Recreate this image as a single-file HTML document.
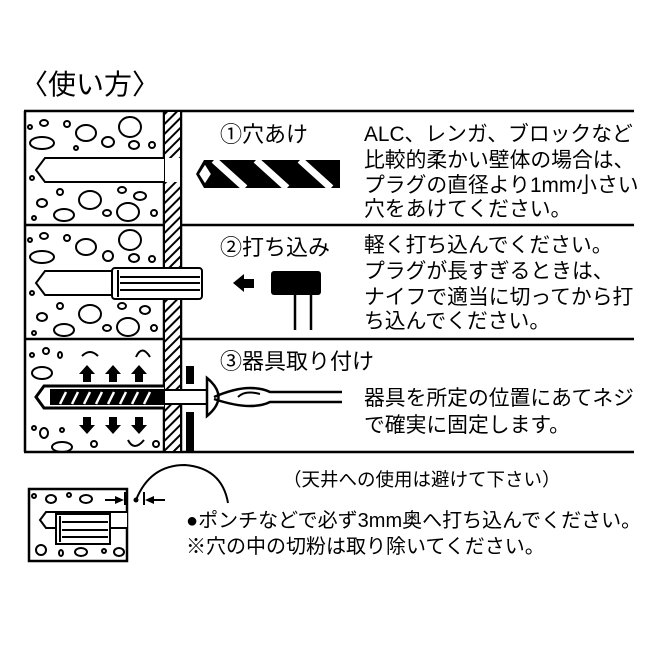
<!DOCTYPE html>
<html><head><meta charset="utf-8"><style>
html,body{margin:0;padding:0;background:#fff}
svg{display:block}
text{font-family:"Liberation Sans","Noto Sans CJK JP",sans-serif;fill:#000}
</style></head><body>
<svg width="665" height="665" viewBox="0 0 665 665" xmlns="http://www.w3.org/2000/svg">
<defs>
<pattern id="h" width="7" height="7" patternUnits="userSpaceOnUse" patternTransform="rotate(45)">
<rect width="7" height="7" fill="#fff"/><rect width="2" height="7" fill="#000"/></pattern>
</defs>
<text x="20" y="94" font-size="28">〈使い方〉</text>
<g stroke="#000" stroke-width="2.5" fill="none">
<line x1="24" y1="111" x2="634" y2="111"/>
<line x1="24" y1="225" x2="634" y2="225"/>
<line x1="24" y1="339" x2="634" y2="339"/>
<line x1="24" y1="452" x2="634" y2="452"/>
<line x1="25" y1="111" x2="25" y2="452"/>
<line x1="164" y1="111" x2="164" y2="452"/>
<line x1="181" y1="111" x2="181" y2="452"/>
</g>
<rect x="165" y="112" width="15" height="339" fill="url(#h)"/>
<g stroke="#000" stroke-width="2" fill="#fff">
<path d="M164 158 H45 L36 170 L45 182 H164"/>
<path d="M164 271 H45 L36 283 L45 295 H164"/>
<rect x="112" y="268" width="90" height="31" rx="3"/>
<line x1="118" y1="270" x2="118" y2="297"/>
<line x1="120" y1="277" x2="200" y2="277"/><line x1="120" y1="283" x2="200" y2="283"/><line x1="120" y1="290" x2="200" y2="290"/>
</g>
<rect x="165" y="158" width="15" height="24" fill="#fff"/>
<g stroke="#000" stroke-width="2" fill="none">
<ellipse cx="30" cy="127" rx="2" ry="2"/><ellipse cx="44" cy="123" rx="4" ry="3"/><ellipse cx="67" cy="124" rx="3" ry="3"/>
<ellipse cx="86" cy="133" rx="10" ry="8"/><ellipse cx="130" cy="127" rx="11" ry="10"/><ellipse cx="42" cy="143" rx="12" ry="6"/>
<ellipse cx="108" cy="142" rx="6" ry="5"/><ellipse cx="134" cy="145" rx="5" ry="4"/><ellipse cx="152" cy="145" rx="3" ry="3"/><ellipse cx="76" cy="148" rx="2" ry="2"/>
<ellipse cx="32" cy="178" rx="2" ry="2"/><ellipse cx="60" cy="192" rx="3" ry="3"/><ellipse cx="122" cy="190" rx="4" ry="3"/>
<ellipse cx="90" cy="200" rx="11" ry="9"/><ellipse cx="42" cy="203" rx="5" ry="4"/><ellipse cx="140" cy="196" rx="6" ry="4"/>
<ellipse cx="128" cy="212" rx="11" ry="9"/><ellipse cx="64" cy="215" rx="10" ry="6"/><ellipse cx="107" cy="213" rx="4" ry="3"/><ellipse cx="34" cy="218" rx="2" ry="2"/><ellipse cx="154" cy="213" rx="3" ry="3"/>
<ellipse cx="30" cy="240" rx="2" ry="2"/><ellipse cx="44" cy="236" rx="4" ry="3"/><ellipse cx="67" cy="238" rx="3" ry="3"/>
<ellipse cx="86" cy="247" rx="10" ry="8"/><ellipse cx="130" cy="240" rx="11" ry="10"/><ellipse cx="42" cy="257" rx="12" ry="6"/>
<ellipse cx="108" cy="256" rx="5" ry="5"/><ellipse cx="134" cy="258" rx="5" ry="4"/><ellipse cx="152" cy="259" rx="3" ry="3"/>
<ellipse cx="32" cy="293" rx="2" ry="2"/><ellipse cx="60" cy="306" rx="3" ry="3"/><ellipse cx="122" cy="306" rx="4" ry="3"/>
<ellipse cx="90" cy="314" rx="11" ry="9"/><ellipse cx="42" cy="317" rx="5" ry="4"/><ellipse cx="145" cy="310" rx="5" ry="4"/>
<ellipse cx="128" cy="327" rx="11" ry="9"/><ellipse cx="64" cy="330" rx="10" ry="6"/><ellipse cx="107" cy="328" rx="4" ry="3"/><ellipse cx="34" cy="333" rx="2" ry="2"/><ellipse cx="154" cy="328" rx="3" ry="3"/>
<ellipse cx="32" cy="355" rx="2" ry="2"/><ellipse cx="46" cy="351" rx="3" ry="3"/><ellipse cx="60" cy="355" rx="2" ry="3"/>
<ellipse cx="42" cy="373" rx="10" ry="6"/><path d="M82 356 Q90 348 98 356"/><path d="M136 357 Q142 344 150 357"/>
<ellipse cx="34" cy="428" rx="2" ry="2"/><ellipse cx="44" cy="433" rx="4" ry="5"/><ellipse cx="62" cy="430" rx="2" ry="2"/>
<ellipse cx="62" cy="447" rx="10" ry="5"/><ellipse cx="94" cy="444" rx="3" ry="3"/><path d="M128 440 Q134 452 144 440"/><ellipse cx="156" cy="444" rx="3" ry="3"/>
</g>
<path d="M164 386 H44 L36 397 L44 408 H164" fill="#fff" stroke="#000" stroke-width="3"/>
<rect x="50" y="389" width="114" height="16" fill="#000"/>
<g stroke="#fff" stroke-width="2.5">
<line x1="60" y1="404" x2="66" y2="392"/><line x1="72" y1="404" x2="78" y2="392"/><line x1="84" y1="404" x2="90" y2="392"/><line x1="96" y1="404" x2="102" y2="392"/><line x1="108" y1="404" x2="114" y2="392"/><line x1="120" y1="404" x2="126" y2="392"/><line x1="132" y1="404" x2="138" y2="392"/><line x1="144" y1="404" x2="150" y2="392"/>
</g>
<rect x="164" y="390" width="44" height="14" fill="#fff" stroke="#000" stroke-width="2"/>
<rect x="186" y="366" width="8" height="18" fill="#000"/>
<rect x="186" y="412" width="8" height="40" fill="#000"/>
<path d="M207 378 Q230 397 207 416 Z" fill="#fff" stroke="#000" stroke-width="2.5"/>
<path d="M214 397 Q235 388 250 388 Q262 388 270 392 H342 M214 399 Q235 406 250 406 Q262 406 270 402 H342" fill="none" stroke="#000" stroke-width="2.5"/>
<path d="M238 397 Q245 390 260 394" fill="none" stroke="#000" stroke-width="2"/>
<g fill="#000">
<path d="M79 374 L87 365 L95 374 H91 V382 H83 V374Z"/><path d="M105 374 L113 365 L121 374 H117 V382 H109 V374Z"/><path d="M131 374 L139 365 L147 374 H143 V382 H135 V374Z"/>
<path d="M79 425 L87 434 L95 425 H91 V417 H83 V425Z"/><path d="M105 425 L113 434 L121 425 H117 V417 H109 V425Z"/><path d="M131 425 L139 434 L147 425 H143 V417 H135 V425Z"/>
<path d="M233 283 L244 274 V279 H254 V288 H244 V292Z"/>
<rect x="271" y="271" width="50" height="24" rx="3"/>
</g>
<g stroke="#000" stroke-width="2.5"><line x1="295" y1="295" x2="295" y2="330"/><line x1="311" y1="295" x2="311" y2="330"/></g>
<path d="M196 174 L204 160 H340 V188 H204 Z" fill="#000"/>
<g stroke="#fff" stroke-width="7">
<line x1="214" y1="160" x2="245" y2="188"/><line x1="256" y1="160" x2="287" y2="188"/><line x1="300" y1="160" x2="331" y2="188"/>
</g>
<path d="M198 174 L205 163 L212 174 L205 185Z" fill="#fff" stroke="#000" stroke-width="2"/>
<text x="220" y="142" font-size="22">①穴あけ</text>
<text x="220" y="255" font-size="22">②打ち込み</text>
<text x="220" y="369" font-size="22">③器具取り付け</text>
<g font-size="20.8">
<text x="364" y="141">ALC、レンガ、ブロックなど</text>
<text x="364" y="167">比較的柔かい壁体の場合は、</text>
<text x="364" y="192">プラグの直径より1mm小さい</text>
<text x="364" y="216">穴をあけてください。</text>
<text x="364" y="252">軽く打ち込んでください。</text>
<text x="364" y="278">プラグが長すぎるときは、</text>
<text x="364" y="304">ナイフで適当に切ってから打</text>
<text x="364" y="328">ち込んでください。</text>
<text x="364" y="405">器具を所定の位置にあてネジ</text>
<text x="364" y="432">で確実に固定します。</text>
</g>
<text x="283" y="486" font-size="18.5">（天井への使用は避けて下さい）</text>
<rect x="29" y="489" width="98" height="72" fill="#fff" stroke="#000" stroke-width="2.5"/>
<path d="M127 512 H46 L40 520 L46 528 H127" fill="#fff" stroke="#000" stroke-width="2"/>
<rect x="56" y="514" width="54" height="30" fill="#fff" stroke="#000" stroke-width="2"/>
<g stroke="#000" stroke-width="2" fill="none">
<line x1="60" y1="516" x2="60" y2="542"/><line x1="62" y1="522" x2="108" y2="522"/><line x1="62" y1="530" x2="108" y2="530"/><line x1="62" y1="537" x2="108" y2="537"/>
<ellipse cx="34" cy="496" rx="2" ry="2"/><ellipse cx="51" cy="499" rx="5" ry="4"/><ellipse cx="69" cy="495" rx="2" ry="2"/><ellipse cx="86" cy="499" rx="6" ry="4"/>
<ellipse cx="41" cy="550" rx="5" ry="5"/><ellipse cx="61" cy="553" rx="2" ry="3"/><ellipse cx="81" cy="552" rx="6" ry="4"/><ellipse cx="104" cy="551" rx="2" ry="2"/><ellipse cx="119" cy="552" rx="5" ry="4"/>
<line x1="125" y1="492" x2="125" y2="505"/><line x1="144" y1="492" x2="144" y2="505"/>
<line x1="105" y1="500" x2="122" y2="500"/><line x1="148" y1="500" x2="165" y2="500"/>
<path d="M136 500 Q150 465 185 465 Q222 468 228 503"/>
</g>
<path d="M124 500 L115 496 V504Z M145 500 L154 496 V504Z" fill="#000"/>
<circle cx="136" cy="500" r="2.5" fill="#000"/>
<text x="186" y="527" font-size="20">●ポンチなどで必ず3mm奥へ打ち込んでください。</text>
<text x="186" y="553" font-size="20">※穴の中の切粉は取り除いてください。</text>
</svg>
</body></html>
